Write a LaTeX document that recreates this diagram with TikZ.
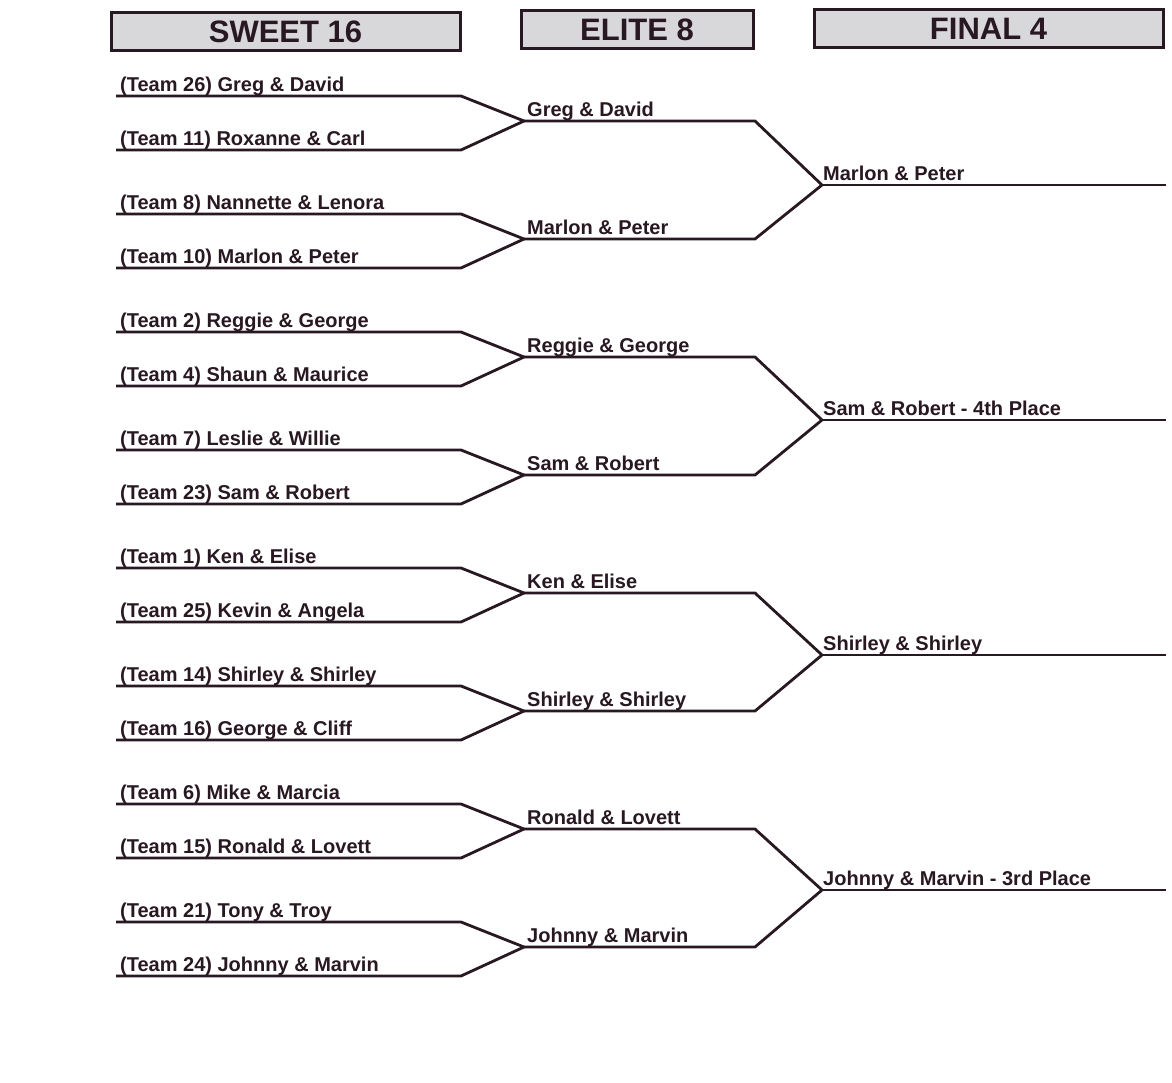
\documentclass[tikz,border=0pt]{standalone}
\usepackage{xcolor}
\usepackage{fontspec}
\setmainfont{Liberation Sans}
\usepackage{tikz}

\definecolor{ink}{RGB}{40,24,34}
\definecolor{boxgray}{RGB}{216,216,218}

\begin{document}
\begin{tikzpicture}[x=1pt,y=-1pt,
  bline/.style={draw=ink, line width=2.8pt, line join=miter},
  lbl/.style={anchor=base west, inner sep=0pt, text=ink, font=\bfseries\fontsize{20}{24}\selectfont},
  headbox/.style={draw=ink, line width=3pt, fill=boxgray, inner sep=0pt, text=ink, minimum height=38pt, font=\bfseries\fontsize{31}{35}\selectfont}]
\useasboundingbox[fill=white] (0,0) rectangle (1172,1082);

% round headers
\node[headbox, minimum width=349pt] (sweet) at (285.5,31.5) {SWEET 16};
\node[headbox, minimum width=232pt] (elite) at (637,29.5) {ELITE 8};
\node[headbox, minimum width=349pt] (final) at (988.5,28.5) {FINAL 4};

% sweet 16
\foreach \nm [count=\i from 0] in {{(Team 26) Greg \& David},{(Team 11) Roxanne \& Carl},
  {(Team 8) Nannette \& Lenora},{(Team 10) Marlon \& Peter},
  {(Team 2) Reggie \& George},{(Team 4) Shaun \& Maurice},
  {(Team 7) Leslie \& Willie},{(Team 23) Sam \& Robert},
  {(Team 1) Ken \& Elise},{(Team 25) Kevin \& Angela},
  {(Team 14) Shirley \& Shirley},{(Team 16) George \& Cliff},
  {(Team 6) Mike \& Marcia},{(Team 15) Ronald \& Lovett},
  {(Team 21) Tony \& Troy},{(Team 24) Johnny \& Marvin}}{
  \pgfmathtruncatemacro{\g}{div(\i,2)}
  \pgfmathsetmacro{\yy}{96+118*\g+54*mod(\i,2)}
  \coordinate (ta\i) at (116,\yy);
  \coordinate (tb\i) at (461,\yy);
  \node[lbl] (tl\i) at (120,\yy-5) {\nm};
}

% elite 8
\foreach \nm [count=\j from 0] in {{Greg \& David},{Marlon \& Peter},{Reggie \& George},{Sam \& Robert},
  {Ken \& Elise},{Shirley \& Shirley},{Ronald \& Lovett},{Johnny \& Marvin}}{
  \pgfmathsetmacro{\yy}{121+118*\j}
  \coordinate (e\j) at (524,\yy);
  \coordinate (eb\j) at (755,\yy);
  \node[lbl] (el\j) at (527,\yy-5) {\nm};
}

% final 4
\foreach \nm [count=\k from 0] in {{Marlon \& Peter},{Sam \& Robert - 4th Place},
  {Shirley \& Shirley},{Johnny \& Marvin - 3rd Place}}{
  \pgfmathsetmacro{\yy}{185+235*\k}
  \coordinate (f\k) at (822,\yy);
  \coordinate (fb\k) at (1166,\yy);
  \node[lbl] (fl\k) at (823,\yy-5) {\nm};
}

% bracket lines
\foreach \i in {0,...,15}{
  \pgfmathtruncatemacro{\j}{div(\i,2)}
  \draw[bline] (ta\i) -- (tb\i) -- (e\j);
}
\foreach \j in {0,...,7}{
  \pgfmathtruncatemacro{\k}{div(\j,2)}
  \draw[bline] (e\j) -- (eb\j) -- (f\k);
}
\foreach \k in {0,...,3}
  \draw[bline] (f\k) -- (fb\k);
\end{tikzpicture}
\end{document}
